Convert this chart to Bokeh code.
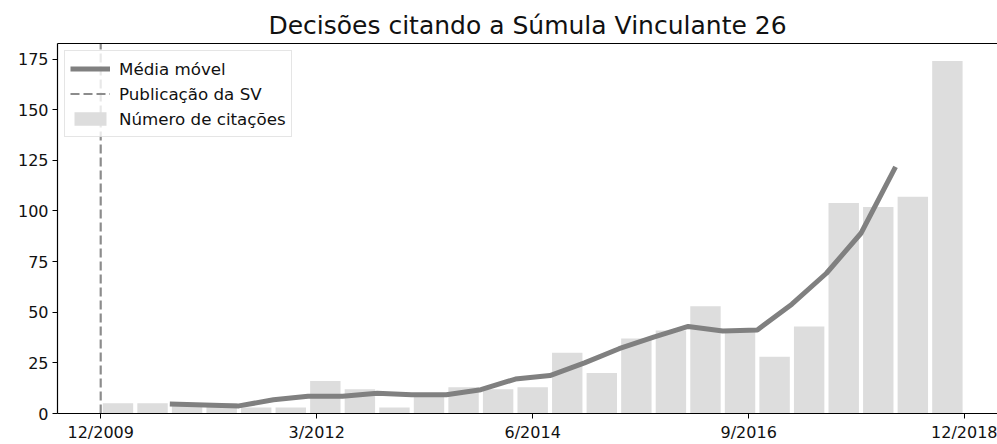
import numpy as np
from bokeh.plotting import figure
from bokeh.models import Range1d, FixedTicker, LinearAxis, Legend, LegendItem
from bokeh.embed import file_html
from bokeh.resources import INLINE

title_text = "Decisões citando a Súmula Vinculante 26"

# Citations counted in 25 equal-width bins from the publication month to the last month
period_start = "12/2009"
period_end = "12/2018"
citations = [5, 5, 4, 5, 3, 3, 16, 12, 3, 9, 13, 12, 13, 30, 20,
             37, 41, 53, 41, 28, 43, 104, 102, 107, 174]
tick_labels = ["12/2009", "3/2012", "6/2014", "9/2016", "12/2018"]
window = 4

FONT = "DejaVu Sans"


def months(label):
    m, y = label.split("/")
    return int(y) * 12 + int(m) - 1


origin = months(period_start)
total = months(period_end) - origin
counts = np.array(citations, dtype=float)
n = len(counts)
edges = np.linspace(0, total, n + 1)
centers = (edges[:-1] + edges[1:]) / 2
bin_w = edges[1] - edges[0]

# centred moving average over 4 bins, drawn at the left edge of each bin
avg = np.convolve(counts, np.ones(window) / window, mode="valid")
avg_x = edges[window // 2: window // 2 + len(avg)]

tick_pos = [months(t) - origin for t in tick_labels]
ymax = 1.05 * counts.max()

p = figure(width=997, height=444, output_backend="svg", toolbar_location=None,
           x_range=Range1d(-0.05 * total, 1.038 * total),
           y_range=Range1d(0, ymax),
           min_border_left=57, min_border_right=0,
           min_border_top=43, min_border_bottom=30)
p.background_fill_color = "white"
p.border_fill_color = "white"
p.outline_line_color = None
p.xgrid.visible = False
p.ygrid.visible = False

p.title.text = title_text
p.title.align = "center"
p.title.text_font = FONT
p.title.text_font_size = "25px"
p.title.text_font_style = "normal"
p.title.text_color = "#111111"
p.title.standoff = 7

bars = p.vbar(x=centers, top=counts, width=0.88 * bin_w, bottom=0,
              fill_color="#dddddd", line_color=None)
avg_line = p.line(x=avg_x, y=avg, line_color="#808080", line_width=5)
pub_line = p.line(x=[0, 0], y=[0, ymax], line_color="#8c8c8c", line_width=2.2,
                  line_dash="9 4")

for ax in (p.xaxis[0], p.yaxis[0]):
    ax.axis_line_color = "black"
    ax.axis_line_width = 1.2
    ax.major_tick_line_color = "black"
    ax.major_tick_line_width = 1
    ax.major_tick_out = 5
    ax.major_tick_in = 0
    ax.minor_tick_line_color = None
    ax.major_label_text_font = FONT
    ax.major_label_text_font_size = "16px"
    ax.major_label_text_color = "#111111"
    ax.major_label_standoff = 4

p.xaxis[0].ticker = FixedTicker(ticks=tick_pos)
p.xaxis[0].major_label_overrides = {pos: lab for pos, lab in zip(tick_pos, tick_labels)}
p.yaxis[0].ticker = FixedTicker(ticks=list(range(0, 176, 25)))

# top spine
top = LinearAxis(ticker=FixedTicker(ticks=[]), axis_line_color="black",
                 axis_line_width=1.2, major_tick_line_color=None,
                 minor_tick_line_color=None, major_label_text_font_size="0px")
p.add_layout(top, "above")

legend = Legend(items=[LegendItem(label="Média móvel", renderers=[avg_line]),
                       LegendItem(label="Publicação da SV", renderers=[pub_line]),
                       LegendItem(label="Número de citações", renderers=[bars])],
                location="top_left", margin=7, padding=5, spacing=0,
                glyph_width=40, glyph_height=17, label_height=25,
                label_standoff=9, label_text_font=FONT,
                label_text_font_size="16.7px", label_text_color="#111111",
                border_line_color="#cccccc", border_line_width=1,
                background_fill_color="white", background_fill_alpha=0.8)
p.add_layout(legend)

open("out.html", "w").write(file_html(p, INLINE))
